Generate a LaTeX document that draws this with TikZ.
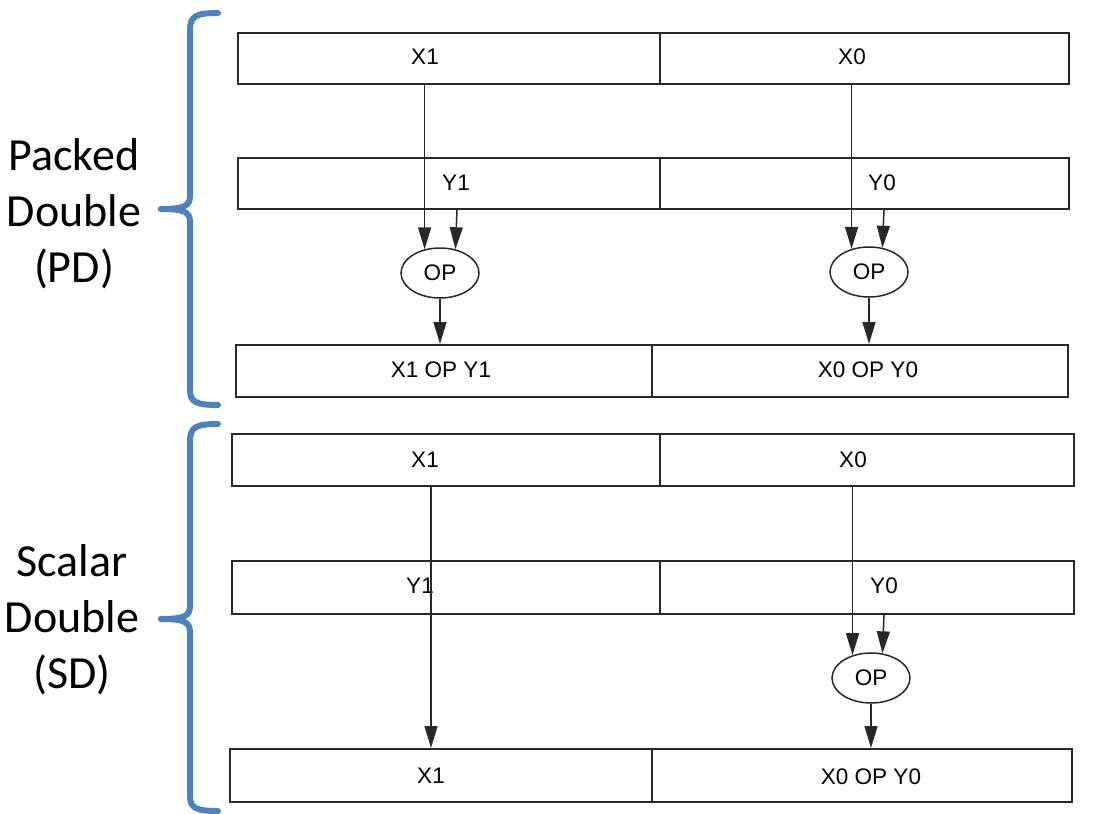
\documentclass[tikz,border=0pt]{standalone}
\usepackage{fontspec}
\setmainfont{Liberation Sans}
\newfontfamily\bigfont{Carlito}
\usetikzlibrary{arrows.meta}
\usetikzlibrary{shapes.geometric}
\usetikzlibrary{positioning}
\definecolor{braceblue}{RGB}{79,129,189}
\definecolor{linegray}{RGB}{40,40,40}
\tikzset{
  cell/.style = {draw = linegray, line width = 1.8pt, inner sep = 0, anchor = north west},
  lbl/.style = {font = \fontsize{22.5}{25}\selectfont, text = black},
  opnode/.style = {draw = linegray, ellipse, line width = 1.5pt, inner sep = 0,
    minimum width = 78pt, minimum height = 50pt, font = \fontsize{22.5}{25}\selectfont},
  arr/.style = {-{Triangle[length = 22pt, width = 13pt]}, line width = 1.5pt, linegray},
  brace/.style = {braceblue, line width = 6pt, line cap = round},
  side/.style = {font = \bigfont\fontsize{46}{56}\selectfont, align = center}
}

\begin{document}
\begin{tikzpicture}[x = 1pt, y = -1pt]
    \useasboundingbox (0, 0) rectangle (1104, 814);

    % packed double
    \node [cell, minimum width = 422pt, minimum height = 51pt] (pdx1) at (237, 32) {};
    \node [cell, minimum width = 409pt, minimum height = 51pt] (pdx0) at (659, 32) {};
    \node [cell, minimum width = 422pt, minimum height = 51pt] (pdy1) at (237, 157) {};
    \node [cell, minimum width = 409pt, minimum height = 51pt] (pdy0) at (659, 157) {};
    \node [cell, minimum width = 416pt, minimum height = 52pt] (pdr1) at (235, 344) {};
    \node [cell, minimum width = 416pt, minimum height = 52pt] (pdr0) at (651, 344) {};

    \node [lbl] (pdlx1) at (425, 57) {X1};
    \node [lbl] (pdlx0) at (852, 57) {X0};
    \node [lbl] (pdly1) at (456, 183) {Y1};
    \node [lbl] (pdly0) at (882, 183) {Y0};
    \node [lbl] (pdlr1) at (441, 370) {X1 OP Y1};
    \node [lbl] (pdlr0) at (868, 370) {X0 OP Y0};

    \node [opnode] (pdop1) at (440, 273) {OP};
    \node [opnode] (pdop0) at (869, 272) {OP};

    \coordinate (pdys1) at (457, 210);
    \coordinate (pdys0) at (884, 210);

    \draw [arr] (pdop1.123 |- pdx1.south) -- (pdop1.123);
    \draw [arr] (pdys1) -- (pdop1.57);
    \draw [arr] (pdop1.south) -- (pdop1.south |- pdr1.north);
    \draw [arr] (pdop0.127 |- pdx0.south) -- (pdop0.127);
    \draw [arr] (pdys0) -- (pdop0.61);
    \draw [arr] (pdop0.south) -- (pdop0.south |- pdr0.north);

    % scalar double
    \node [cell, minimum width = 428pt, minimum height = 52pt] (sdx1) at (231, 433) {};
    \node [cell, minimum width = 414pt, minimum height = 52pt] (sdx0) at (659, 433) {};
    \node [cell, minimum width = 428pt, minimum height = 53pt] (sdy1) at (231, 560) {};
    \node [cell, minimum width = 414pt, minimum height = 53pt] (sdy0) at (659, 560) {};
    \node [cell, minimum width = 422pt, minimum height = 53pt] (sdr1) at (229, 748) {};
    \node [cell, minimum width = 420pt, minimum height = 53pt] (sdr0) at (651, 748) {};

    \node [lbl] (sdlx1) at (425, 460) {X1};
    \node [lbl] (sdlx0) at (853, 460) {X0};
    \node [lbl] (sdly1) at (420, 586) {Y1};
    \node [lbl] (sdly0) at (884, 586) {Y0};
    \node [lbl] (sdlr1) at (431, 776) {X1};
    \node [lbl] (sdlr0) at (871, 777) {X0 OP Y0};

    \node [opnode] (sdop0) at (871, 678) {OP};

    \coordinate (sdxs1) at (431, 485);
    \coordinate (sdys0) at (884, 614);

    \draw [arr] (sdxs1) -- (sdxs1 |- sdr1.north);
    \draw [arr] (sdop0.129 |- sdx0.south) -- (sdop0.129);
    \draw [arr] (sdys0) -- (sdop0.65);
    \draw [arr] (sdop0.south) -- (sdop0.south |- sdr0.north);

    % braces and side labels
    \draw [brace] (218, 13) .. controls (196, 13) and (190, 16) .. (190, 30)
      -- (190, 196) .. controls (190, 206) and (184, 209) .. (161, 209);
    \draw [brace] (161, 209) .. controls (184, 209) and (190, 212) .. (190, 222)
      -- (190, 390) .. controls (190, 402) and (196, 405) .. (218, 405);
    \draw [brace] (218, 424) .. controls (196, 424) and (190, 427) .. (190, 441)
      -- (190, 606) .. controls (190, 616) and (184, 619) .. (161, 619);
    \draw [brace] (161, 619) .. controls (184, 619) and (190, 622) .. (190, 632)
      -- (190, 796) .. controls (190, 808) and (196, 811) .. (218, 811);

    \node [side] (pdname) at (74, 214) {Packed\\Double\\(PD)};
    \node [side] (sdname) at (72, 620) {Scalar\\Double\\(SD)};
\end{tikzpicture}
\end{document}
